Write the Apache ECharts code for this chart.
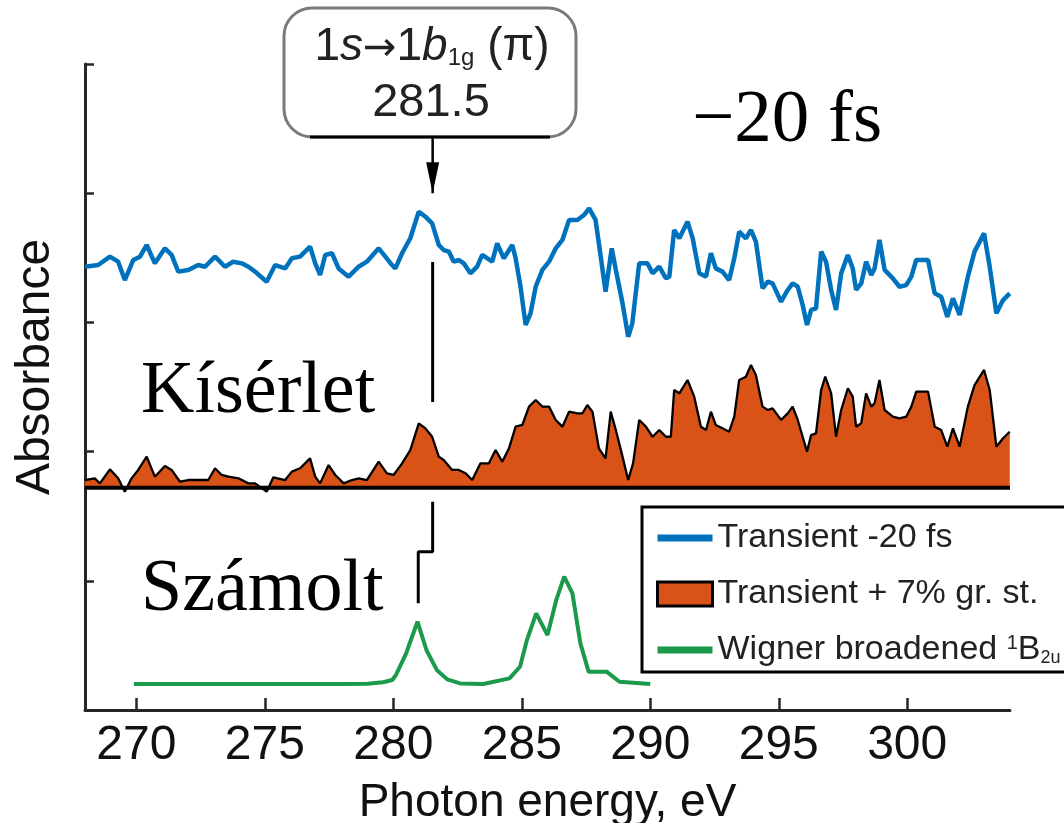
<!DOCTYPE html>
<html><head><meta charset="utf-8">
<script src="https://cdn.jsdelivr.net/npm/echarts@6/dist/echarts.min.js"></script>
<style>html,body{margin:0;padding:0;background:#fff}#c{width:1064px;height:823px}</style>
</head><body><div id="c"></div>
<script>
// ---- data ----
const xTicks = [270, 275, 280, 285, 290, 295, 300];

const blueE = [268.0,268.51,268.97,269.29,269.55,269.88,270.14,270.40,270.72,271.11,
271.37,271.63,272.02,272.41,272.67,273.06,273.45,273.77,274.10,274.36,
274.62,275.07,275.40,275.79,276.05,276.37,276.76,276.96,277.15,277.35,
277.61,277.87,278.26,278.65,278.97,279.43,279.69,279.95,280.08,280.34,
280.66,280.99,281.25,281.51,281.77,281.96,282.16,282.35,282.55,282.74,
283.00,283.26,283.46,283.85,284.04,284.30,284.63,284.76,284.95,285.15,
285.34,285.54,285.80,286.06,286.32,286.58,286.84,287.16,287.42,287.62,
287.87,288.00,288.26,288.50,288.66,288.92,289.14,289.30,289.57,289.89,
290.09,290.35,290.61,290.74,290.93,291.13,291.45,291.65,291.91,292.17,
292.36,292.55,292.81,293.07,293.27,293.46,293.72,293.92,294.11,294.37,
294.57,294.76,295.09,295.35,295.54,295.74,295.93,296.10,296.26,296.45,
296.65,296.84,297.04,297.23,297.43,297.69,297.88,298.01,298.21,298.40,
298.60,298.73,298.92,299.12,299.44,299.70,299.96,300.16,300.35,300.81,
301.07,301.32,301.56,301.78,302.04,302.36,302.62,302.99,303.21,303.47,
303.73,303.99];
const blueA = [3.431,3.444,3.509,3.470,3.328,3.483,3.509,3.599,3.457,3.573,
3.522,3.393,3.406,3.444,3.431,3.509,3.431,3.470,3.457,3.431,
3.393,3.315,3.444,3.418,3.496,3.509,3.586,3.457,3.367,3.522,
3.535,3.418,3.354,3.431,3.470,3.573,3.509,3.444,3.418,3.535,
3.651,3.857,3.818,3.767,3.599,3.560,3.548,3.470,3.483,3.457,
3.380,3.431,3.522,3.470,3.612,3.496,3.599,3.496,3.276,2.980,
3.070,3.276,3.406,3.470,3.573,3.638,3.793,3.793,3.831,3.883,
3.793,3.612,3.238,3.573,3.406,3.148,2.889,2.993,3.457,3.457,
3.380,3.431,3.341,3.354,3.715,3.651,3.780,3.651,3.380,3.354,
3.535,3.418,3.393,3.328,3.496,3.702,3.651,3.715,3.625,3.264,
3.315,3.302,3.160,3.251,3.302,3.276,3.135,2.980,3.096,3.109,
3.548,3.470,3.251,3.096,3.380,3.522,3.418,3.251,3.302,3.470,
3.367,3.418,3.638,3.406,3.341,3.276,3.289,3.354,3.483,3.483,
3.225,3.199,3.044,3.186,3.057,3.354,3.548,3.689,3.431,3.070,
3.173,3.225];

const orangeE = [267.99,268.38,268.58,268.97,269.29,269.55,269.81,270.07,270.40,270.72,
271.11,271.37,271.70,272.02,272.41,272.80,273.06,273.32,273.58,273.97,
274.36,274.62,275.07,275.33,275.79,276.05,276.37,276.76,276.96,277.15,
277.48,277.74,278.07,278.39,278.65,278.97,279.43,279.75,280.01,
280.34,280.66,280.99,281.25,281.51,281.77,281.96,282.29,282.55,282.81,
283.07,283.39,283.72,283.98,284.24,284.50,284.76,285.02,285.28,285.54,
285.80,286.06,286.32,286.58,286.84,287.16,287.36,287.55,287.75,288.00,
288.26,288.46,288.66,288.92,289.14,289.33,289.57,289.83,290.09,290.35,
290.61,290.80,290.93,291.13,291.45,291.71,291.97,292.17,292.36,292.55,
292.81,293.07,293.27,293.46,293.72,293.92,294.11,294.37,294.57,294.76,
295.09,295.35,295.54,295.74,295.93,296.10,296.26,296.45,296.65,296.81,
297.04,297.23,297.43,297.69,297.88,298.01,298.21,298.40,298.60,298.73,
298.92,299.12,299.44,299.70,299.96,300.16,300.35,300.81,301.07,301.32,
301.56,301.78,302.04,302.36,302.62,302.99,303.21,303.47,303.73,303.99];
const orangeA = [1.780,1.793,1.754,1.863,1.793,1.690,1.793,1.858,1.961,1.806,
1.889,1.858,1.767,1.780,1.780,1.780,1.871,1.819,1.806,1.793,
1.754,1.754,1.690,1.801,1.780,1.845,1.871,1.948,1.806,1.754,
1.896,1.819,1.754,1.780,1.793,1.780,1.922,1.832,1.819,
1.909,2.012,2.219,2.180,2.115,1.961,1.935,1.858,1.858,1.832,
1.780,1.909,1.909,2.012,1.922,2.025,2.193,2.206,2.348,2.399,
2.348,2.348,2.245,2.193,2.309,2.296,2.296,2.361,2.309,2.025,
1.948,2.309,2.167,1.961,1.780,1.909,2.245,2.193,2.115,2.167,
2.115,2.115,2.477,2.451,2.554,2.425,2.193,2.167,2.309,2.206,
2.180,2.154,2.270,2.554,2.580,2.670,2.593,2.348,2.322,2.335,
2.245,2.296,2.348,2.245,2.115,2.000,2.128,2.141,2.477,2.580,
2.451,2.115,2.322,2.490,2.425,2.193,2.219,2.451,2.348,2.374,
2.554,2.322,2.270,2.257,2.270,2.348,2.464,2.464,2.193,2.167,
2.038,2.180,2.038,2.348,2.515,2.632,2.477,2.038,2.103,2.154];
const orangeBase = 1.721;
const baseE = [268, 304];
const baseA = [orangeBase, orangeBase];

const greenE = [269.9,278.0,279.0,279.6,279.96,280.1,280.5,280.94,281.29,281.69,
282.1,282.6,283.5,284.52,284.93,285.2,285.56,286.0,286.34,286.65,
286.97,287.28,287.6,288.3,288.8,290.0];
const greenA = [0.201,0.201,0.204,0.215,0.232,0.271,0.439,0.684,0.464,0.310,
0.237,0.206,0.201,0.245,0.335,0.542,0.748,0.580,0.851,1.032,
0.903,0.516,0.297,0.297,0.219,0.201];

// annotation guide lines (data coordinates)
const peakMarkE = [281.53, 281.53];
const peakMarkA = [3.467, 2.384];
const bracketE = [281.53, 281.53, 280.97, 280.97];
const bracketA = [1.612, 1.225, 1.225, 0.826];
const arrowE = [281.53, 281.53];
const arrowA = [4.435, 4.0];

const names = ['Transient -20 fs', 'Transient + 7% gr. st.', 'Wigner broadened 1B2u'];

// ---- chart ----
const pairs = (xs, ys) => xs.map((x, i) => [x, ys[i]]);
const AX = '#262626';
const SANS = 'Liberation Sans, Arial, Helvetica, sans-serif';
const SERIF = 'Liberation Serif, Times New Roman, serif';
const BLUE = '#0072BD', ORANGE = '#D95319', GREEN = '#1A9A4A';
const LINE_ICON = 'path://M0,0L55,0L55,7L0,7Z';

const chart = echarts.init(document.getElementById('c'), null, {renderer: 'canvas'});

const guide = (name, xs, ys, w) => ({
  name, type: 'line', data: pairs(xs, ys), symbol: 'none', silent: true,
  lineStyle: {color: '#000', width: w}, itemStyle: {color: '#000'}, z: 6
});

const option = {
  backgroundColor: '#fff',
  animation: false,
  grid: {left: 85, right: 54, top: 64, bottom: 113, containLabel: false, outerBoundsMode: 'none'},
  xAxis: {
    type: 'value', min: 268, max: 304,
    axisLine: {show: true, onZero: false, lineStyle: {color: AX, width: 3}},
    axisTick: {show: true, inside: true, length: 12, customValues: xTicks, lineStyle: {color: AX, width: 2.5}},
    axisLabel: {show: true, customValues: xTicks, fontSize: 48, fontFamily: SANS, color: '#111', margin: 12},
    splitLine: {show: false},
    name: 'Photon energy, eV', nameLocation: 'middle', nameGap: 70,
    nameTextStyle: {fontSize: 46, fontFamily: SANS, color: '#111'}
  },
  yAxis: {
    type: 'value', min: 0, max: 5, interval: 1,
    axisLine: {show: true, lineStyle: {color: AX, width: 3}},
    axisTick: {show: true, inside: true, length: 9, lineStyle: {color: AX, width: 2.5}},
    axisLabel: {show: false},
    splitLine: {show: false}
  },
  legend: {
    orient: 'vertical', left: 642, top: 507,
    padding: [14, 30, 5, 14],
    itemWidth: 55, itemHeight: 24, itemGap: 22,
    borderColor: '#000', borderWidth: 3, backgroundColor: '#fff',
    selectedMode: false,
    textStyle: {
      fontSize: 34, lineHeight: 34, fontFamily: SANS, color: '#222',
      rich: {
        n: {fontSize: 34, lineHeight: 34, fontFamily: SANS, color: '#222'},
        sup: {fontSize: 20, lineHeight: 34, verticalAlign: 'top', fontFamily: SANS, color: '#222'},
        sub: {fontSize: 18, lineHeight: 18, verticalAlign: 'bottom', fontFamily: SANS, color: '#222'}
      }
    },
    formatter: function (name) {
      if (name === names[2]) return '{n|Wigner broadened }{sup|1}{n|B}{sub|2u}';
      return '{n|' + name + '}';
    },
    data: [
      {name: names[0], icon: LINE_ICON, itemStyle: {color: BLUE, borderWidth: 0}},
      {name: names[1], icon: 'rect', itemStyle: {color: ORANGE, borderColor: '#000', borderWidth: 3}},
      {name: names[2], icon: LINE_ICON, itemStyle: {color: GREEN, borderWidth: 0}}
    ]
  },
  series: [
    {name: names[1], type: 'line', data: pairs(orangeE, orangeA), symbol: 'none', showSymbol: false,
     lineStyle: {color: '#000', width: 2.3}, itemStyle: {color: ORANGE},
     areaStyle: {color: ORANGE, opacity: 1, origin: orangeBase}, z: 3},
    {name: 'baseline', type: 'line', data: pairs(baseE, baseA), symbol: 'none', silent: true,
     lineStyle: {color: '#000', width: 4}, itemStyle: {color: '#000'}, z: 5},
    {name: names[0], type: 'line', data: pairs(blueE, blueA), symbol: 'none', showSymbol: false,
     lineStyle: {color: BLUE, width: 4.5}, itemStyle: {color: BLUE}, z: 4},
    {name: names[2], type: 'line', data: pairs(greenE, greenA), symbol: 'none', showSymbol: false,
     lineStyle: {color: GREEN, width: 4}, itemStyle: {color: GREEN}, z: 4},
    guide('peakMark', peakMarkE, peakMarkA, 3),
    guide('bracket', bracketE, bracketA, 3),
    guide('arrow', arrowE, arrowA, 2.5)
  ]
};
chart.setOption(option);

// annotations: arrow head position taken from the axes
const tip = chart.convertToPixel({gridIndex: 0}, [arrowE[1], arrowA[1]]);

chart.setOption({
  graphic: [
    {type: 'rect', id: 'box', shape: {x: 284, y: 8, width: 292, height: 129, r: 28},
     style: {fill: '#fff', stroke: '#7a7a7a', lineWidth: 3}, z: 10},
    {type: 'line', id: 'boxb', shape: {x1: 310, y1: 137, x2: 550, y2: 137},
     style: {stroke: '#000', lineWidth: 3}, z: 11},
    {type: 'polygon', id: 'head', shape: {points: [[tip[0] - 6.5, tip[1] - 31], [tip[0] + 6.5, tip[1] - 31], [tip[0], tip[1]]]},
     style: {fill: '#000'}, z: 11},
    {type: 'text', id: 't1', x: 432, y: 47, z: 12,
     style: {text: '{n|1}{i|s}{a|→}{n|1}{i|b}{sub|1g}{n| (π)}', align: 'center', verticalAlign: 'middle',
       rich: {
         n: {fontSize: 46, lineHeight: 46, verticalAlign: 'bottom', fontFamily: SANS, fill: '#222'},
         a: {fontSize: 40, lineHeight: 46, verticalAlign: 'bottom', fontFamily: 'DejaVu Sans', fill: '#222'},
         i: {fontSize: 46, lineHeight: 46, verticalAlign: 'bottom', fontStyle: 'italic', fontFamily: SANS, fill: '#222'},
         sub: {fontSize: 24, lineHeight: 24, verticalAlign: 'bottom', fontFamily: SANS, fill: '#222'}
       }}},
    {type: 'text', id: 't2', x: 431, y: 103, z: 12,
     style: {text: '281.5', fontSize: 47, fontFamily: SANS, fill: '#222', align: 'center', verticalAlign: 'middle'}},
    {type: 'text', id: 'fs', x: 692, y: 121, z: 12,
     style: {text: '\u221220 fs', fontSize: 75, fontFamily: SERIF, fill: '#000', align: 'left', verticalAlign: 'middle'}},
    {type: 'text', id: 'kis', x: 141, y: 393, z: 12,
     style: {text: 'Kísérlet', fontSize: 74, fontFamily: SERIF, fill: '#000', align: 'left', verticalAlign: 'middle'}},
    {type: 'text', id: 'szam', x: 141, y: 591, z: 12,
     style: {text: 'Számolt', fontSize: 74, fontFamily: SERIF, fill: '#000', align: 'left', verticalAlign: 'middle'}},
    {type: 'text', id: 'ylab', x: 36, y: 367, rotation: Math.PI / 2, z: 12,
     style: {text: 'Absorbance', fontSize: 48, fontFamily: SANS, fill: '#111', align: 'center', verticalAlign: 'middle'}}
  ]
});
</script>
</body></html>
